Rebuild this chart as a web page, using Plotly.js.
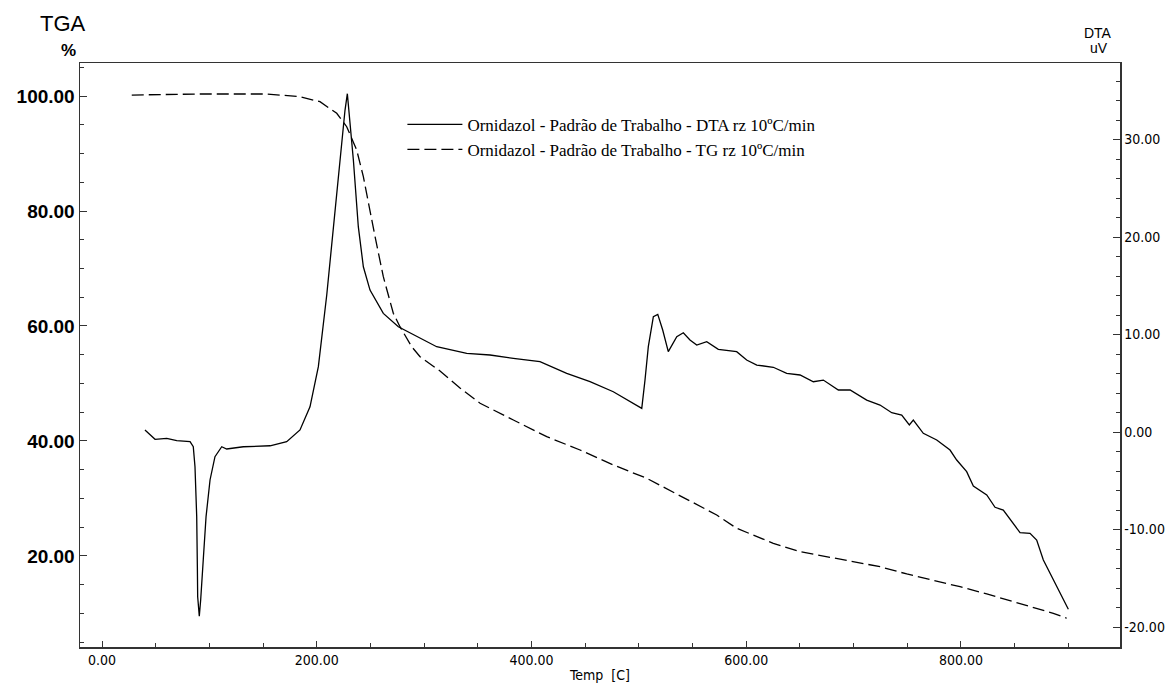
<!DOCTYPE html>
<html>
<head>
<meta charset="utf-8">
<script src="https://cdn.plot.ly/plotly-3.0.1.min.js"></script>
<style>
  html, body { margin: 0; padding: 0; background: #ffffff; }
  #chart { width: 1176px; height: 688px; }
</style>
</head>
<body>
<div id="chart"></div>
<script>
// ---- DTA curve (Temp [C] vs uV) ----
const dtaTemp = [
  40.0, 49.4, 60.3, 69.6, 82.0, 85.0, 86.6, 88.2, 88.8, 89.1,
  90.6, 91.9, 94.3, 96.9, 100.6, 105.2, 111.5, 116.1, 131.6, 156.5,
  172.0, 184.4, 193.7, 201.5, 209.3, 215.4, 221.7, 226.3, 228.5, 231.0,
  234.1, 238.7, 243.4, 249.6, 262.0, 276.0, 296.2, 311.7, 339.7, 361.4,
  383.1, 407.9, 432.8, 454.5, 476.2, 491.8, 502.7, 505.7, 508.8, 513.5,
  517.6, 522.2, 527.4, 535.3, 541.4, 547.6, 553.9, 563.2, 574.0, 591.1,
  600.4, 609.8, 625.2, 637.7, 650.1, 662.5, 671.8, 685.8, 696.7, 712.2,
  724.6, 735.5, 744.8, 751.9, 755.6, 764.9, 777.4, 789.8, 796.0, 805.3,
  811.5, 824.0, 831.7, 839.4, 847.3, 855.0, 864.3, 870.5, 876.7, 882.9,
  890.7, 900.0
];
const dtaUV = [
  0.21, -0.75, -0.65, -0.89, -0.99, -1.51, -3.56, -8.69, -13.8, -16.9,
  -18.9, -17.2, -13.1, -8.69, -4.92, -2.53, -1.51, -1.74, -1.51, -1.41,
  -0.99, 0.21, 2.59, 6.70, 14.05, 21.06, 27.9, 33.0, 34.7, 32.0,
  27.9, 21.06, 16.95, 14.56, 12.17, 10.8, 9.61, 8.75, 8.07, 7.9,
  7.56, 7.21, 6.02, 5.16, 4.13, 3.11, 2.43, 5.33, 8.75, 11.83,
  12.07, 10.46, 8.24, 9.77, 10.18, 9.44, 8.92, 9.26, 8.48, 8.24,
  7.38, 6.87, 6.64, 6.02, 5.85, 5.16, 5.33, 4.31, 4.31, 3.28,
  2.77, 1.98, 1.74, 0.72, 1.23, -0.13, -0.82, -1.85, -2.87, -4.07,
  -5.54, -6.46, -7.72, -8.0, -9.2, -10.33, -10.39, -11.08, -13.13, -14.49,
  -16.2, -18.18
];

// ---- TGA curve (Temp [C] vs %) ----
const tgaTemp = [
  27.7, 91.3, 153.4, 184.4, 203.0, 218.6, 227.9, 237.2, 243.4, 248.0,
  254.3, 262.0, 271.3, 277.5, 288.4, 296.2, 314.8, 333.4, 352.1, 383.1,
  414.2, 445.2, 476.2, 507.3, 531.8, 556.9, 572.5, 591.1, 606.6, 625.2,
  650.1, 675.0, 699.7, 724.6, 749.5, 774.3, 799.1, 824.0, 848.7, 873.6,
  886.0, 898.5
];
const tgaPct = [
  100.17, 100.35, 100.35, 99.88, 99.01, 96.99, 94.66, 90.61, 85.97, 81.34,
  75.53, 68.57, 62.21, 59.88, 56.40, 54.66, 52.17, 49.22, 46.56, 43.65,
  40.75, 38.43, 35.83, 33.51, 31.13, 28.70, 27.13, 24.82, 23.65, 22.21,
  20.75, 19.88, 19.01, 18.14, 16.87, 15.83, 14.66, 13.39, 12.05, 10.61,
  10.03, 9.17
];

// ---- tick labels ----
const xTickVals = [0, 200, 400, 600, 800];
const xTickText = ["0.00", "200.00", "400.00", "600.00", "800.00"];
const tgaTickVals = [20, 40, 60, 80, 100];
const tgaTickText = ["20.00", "40.00", "60.00", "80.00", "100.00"];
const dtaTickVals = [-20, -10, 0, 10, 20, 30];
const dtaTickText = ["-20.00", "-10.00", "0.00", "10.00", "20.00", "30.00"];

const names = [
  "Ornidazol - Padrão de Trabalho - DTA rz 10ºC/min",
  "Ornidazol - Padrão de Trabalho - TG rz 10ºC/min"
];

const axisColor = "#333333";
const smallFont = { family: "Liberation Sans Narrow, DejaVu Sans Condensed, Liberation Sans, Arial, sans-serif", size: 14, color: "#000" };

const traces = [
  {
    x: dtaTemp, y: dtaUV, name: names[0], yaxis: "y2",
    type: "scatter", mode: "lines",
    line: { color: "#000", width: 1.3 }
  },
  {
    x: tgaTemp, y: tgaPct, name: names[1], yaxis: "y",
    type: "scatter", mode: "lines",
    line: { color: "#000", width: 1.3, dash: "12px,5px" }
  }
];

const layout = {
  width: 1176, height: 688,
  paper_bgcolor: "#fff", plot_bgcolor: "#fff",
  margin: { l: 80, r: 56, t: 63, b: 41 },
  showlegend: true,
  legend: {
    x: 0.31, y: 0.925, xanchor: "left", yanchor: "top",
    bgcolor: "rgba(0,0,0,0)", borderwidth: 0,
    font: { family: "Liberation Serif, Times New Roman, serif", size: 17, color: "#000" },
    itemwidth: 55, tracegroupgap: 0
  },
  xaxis: {
    range: [-20.5, 948.1],
    tickmode: "array", tickvals: xTickVals, ticktext: xTickText,
    ticks: "inside", ticklen: 6, tickwidth: 1, tickcolor: axisColor,
    minor: { tickmode: "linear", tick0: 0, dtick: 50, ticks: "inside", ticklen: 4, tickcolor: axisColor, showgrid: false },
    showline: true, linecolor: axisColor, linewidth: 1.5, mirror: true,
    showgrid: false, zeroline: false,
    tickfont: smallFont,
    title: { text: "Temp  [C]", font: smallFont, standoff: 3 }
  },
  yaxis: {
    range: [4.17, 105.74],
    tickmode: "array", tickvals: tgaTickVals, ticktext: tgaTickText,
    ticks: "inside", ticklen: 7, tickwidth: 1, tickcolor: axisColor,
    minor: { tickmode: "linear", tick0: 0, dtick: 5, ticks: "inside", ticklen: 4, tickcolor: axisColor, showgrid: false },
    showline: true, linecolor: axisColor, linewidth: 1.5,
    showgrid: false, zeroline: false,
    tickfont: { family: "Liberation Sans, Arial, sans-serif", size: 19, color: "#000", weight: "bold" }
  },
  yaxis2: {
    overlaying: "y", side: "right",
    range: [-22.05, 37.85],
    tickmode: "array", tickvals: dtaTickVals, ticktext: dtaTickText,
    ticks: "inside", ticklen: 7, tickwidth: 1, tickcolor: axisColor,
    minor: { tickmode: "linear", tick0: 0, dtick: 2, ticks: "inside", ticklen: 4, tickcolor: axisColor, showgrid: false },
    showline: true, linecolor: axisColor, linewidth: 1.5,
    showgrid: false, zeroline: false,
    tickfont: smallFont
  },
  annotations: [
    { text: "TGA", xref: "paper", yref: "paper", x: -0.0163, y: 1.0668, xanchor: "center", yanchor: "middle",
      showarrow: false, font: { family: "Liberation Sans, Arial, sans-serif", size: 22, color: "#000" } },
    { text: "%", xref: "paper", yref: "paper", x: -0.0115, y: 1.0222, xanchor: "center", yanchor: "middle",
      showarrow: false, font: { family: "Liberation Sans, Arial, sans-serif", size: 17, color: "#000", weight: "bold" } },
    { text: "DTA", xref: "paper", yref: "paper", x: 0.9788, y: 1.0514, xanchor: "center", yanchor: "middle",
      showarrow: false, font: { family: "Liberation Sans, Arial, sans-serif", size: 14, color: "#000" } },
    { text: "uV", xref: "paper", yref: "paper", x: 0.9798, y: 1.0257, xanchor: "center", yanchor: "middle",
      showarrow: false, font: { family: "Liberation Sans, Arial, sans-serif", size: 14, color: "#000" } }
  ]
};

Plotly.newPlot("chart", traces, layout, { staticPlot: true, displayModeBar: false });
</script>
</body>
</html>
